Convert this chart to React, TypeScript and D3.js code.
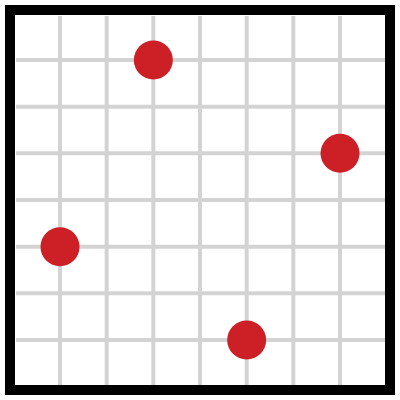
import React from "react";
import * as d3 from "d3";

const gridTicks = [1, 2, 3, 4, 5, 6, 7];
const pointX = [3, 7, 1, 5];
const pointY = [7, 5, 3, 1];

export default function App() {
  const W = 400, H = 400;
  const x = d3.scaleLinear().domain([0, 8]).range([13.33, 386.67]);
  const y = d3.scaleLinear().domain([0, 8]).range([386.67, 13.33]);
  const pts = pointX.map((v, i) => ({ x: v, y: pointY[i] }));
  return (
    <svg width={W} height={H} style={{ position: "absolute", left: 0, top: 0, display: "block" }}>
      <rect x={0} y={0} width={W} height={H} fill="#fff" />
      <g stroke="#d3d3d3" strokeWidth={4}>
        {gridTicks.map((t) => (
          <line key={"v" + t} x1={x(t)} x2={x(t)} y1={16} y2={385} />
        ))}
        {gridTicks.map((t) => (
          <line key={"h" + t} y1={y(t)} y2={y(t)} x1={16} x2={385} />
        ))}
      </g>
      <g fill="#cc2026">
        {pts.map((p, i) => (
          <circle key={i} cx={x(p.x)} cy={y(p.y)} r={19.5} />
        ))}
      </g>
      <rect x={10} y={10} width={380} height={380} fill="none" stroke="#000" strokeWidth={10} />
    </svg>
  );
}
